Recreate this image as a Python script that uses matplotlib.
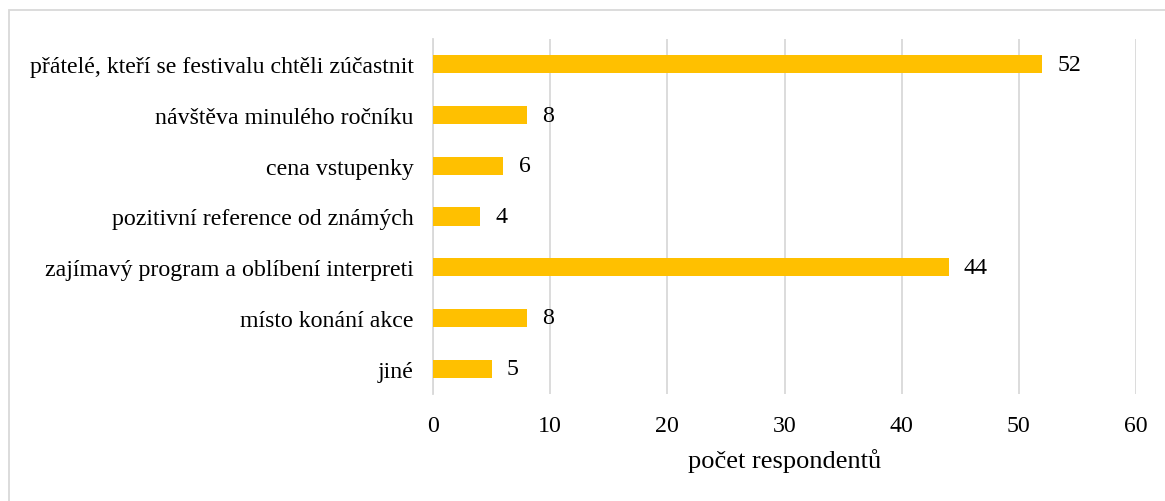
import matplotlib
matplotlib.use("Agg")
import matplotlib.pyplot as plt
from matplotlib.patches import Rectangle

categories = [
    "přátelé, kteří se festivalu chtěli zúčastnit",
    "návštěva minulého ročníku",
    "cena vstupenky",
    "pozitivní reference od známých",
    "zajímavý program a oblíbení interpreti",
    "místo konání akce",
    "jiné",
]
values = [52, 8, 6, 4, 44, 8, 5]
x_ticks = [0, 10, 20, 30, 40, 50, 60]
x_label = "počet respondentů"

plt.rcParams["font.family"] = ["Liberation Serif", "DejaVu Serif"]
FS = 17.2

W, H = 1165, 502
fig = plt.figure(figsize=(W / 100, H / 100), dpi=100)

# light frame around the chart area
fig.patches.append(Rectangle((9 / W, -0.1), 1.2, 1 - 11 / H + 0.1,
                             transform=fig.transFigure, fill=False,
                             edgecolor="#d9d9d9", linewidth=1.3))

ax = fig.add_axes([433 / W, 1 - 395 / H, (1136 - 433) / W, (395 - 40) / H])

y = list(range(len(categories)))
ax.barh(y, values, height=0.36, color="#FFC000", zorder=3)
ax.set_ylim(len(categories) - 0.5, -0.5)
ax.set_xlim(0, 60)
ax.set_xticks(x_ticks)
ax.set_yticks(y)
ax.set_yticklabels(categories)

for yi, v in zip(y, values):
    ax.annotate(str(v), (v, yi), xytext=(11, 0), textcoords="offset points",
                va="center", ha="left", fontsize=FS, color="#000000")

ax.grid(axis="x", color="#d9d9d9", linewidth=1.3, zorder=0)
for s in ["top", "right", "bottom"]:
    ax.spines[s].set_visible(False)
ax.spines["left"].set_color("#d9d9d9")
ax.spines["left"].set_linewidth(1.3)
ax.tick_params(axis="both", length=0, labelsize=FS, colors="#000000")
ax.tick_params(axis="x", pad=15)
ax.tick_params(axis="y", pad=14)
ax.set_xlabel(x_label, fontsize=19, labelpad=9)

fig.savefig("out.png", dpi=100)
